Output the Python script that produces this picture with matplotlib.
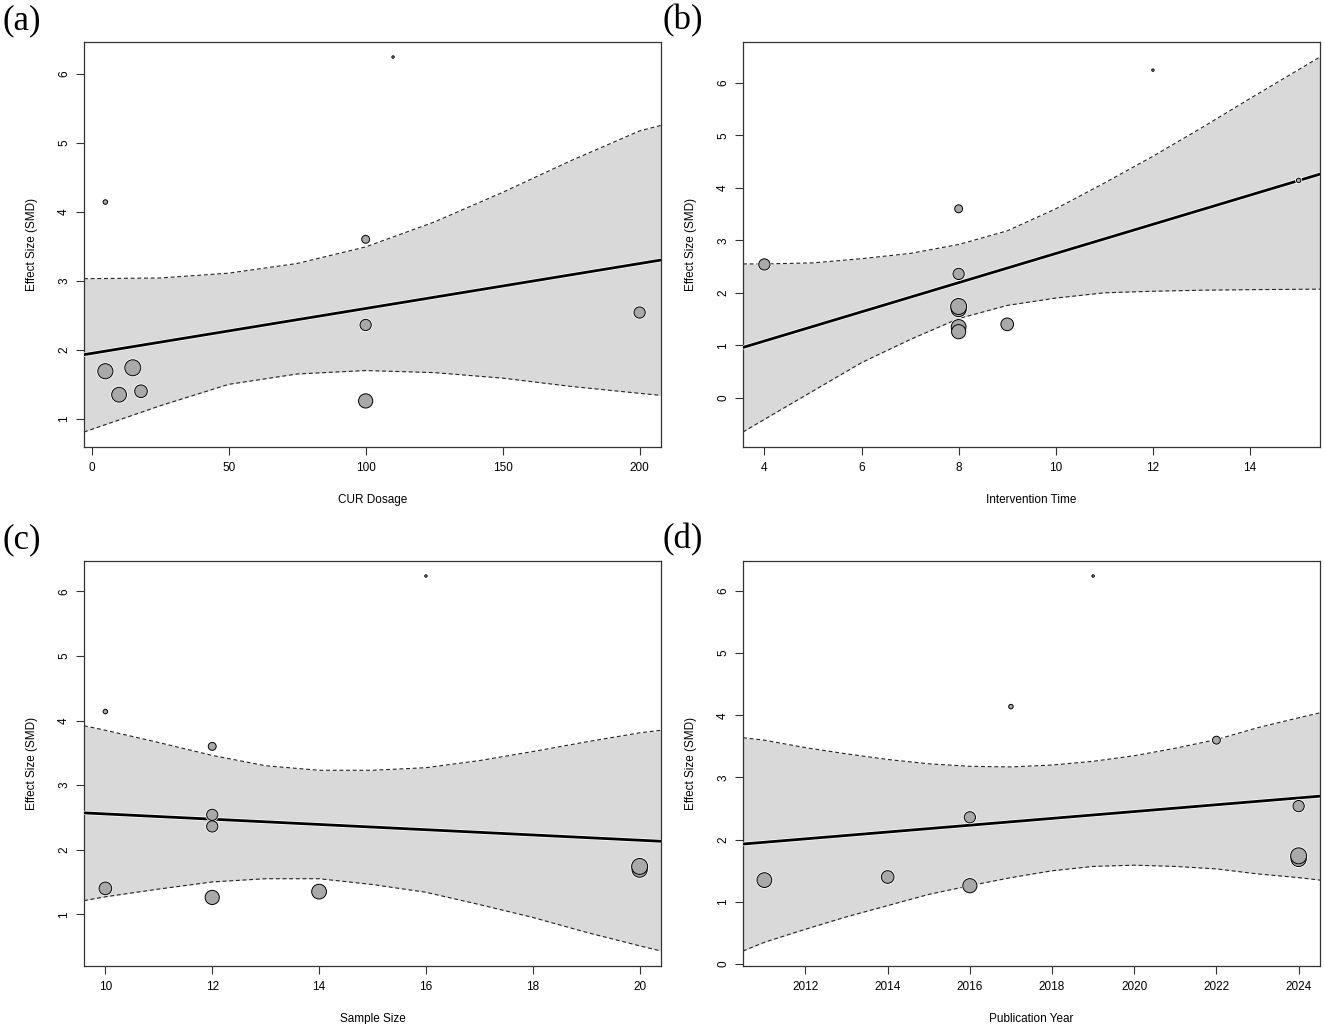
import numpy as np
import matplotlib.pyplot as plt
import matplotlib.patheffects as pe
from matplotlib.ticker import MultipleLocator

plt.rcParams['font.family'] = ['Liberation Sans', 'DejaVu Sans']

# one entry per study (drawn in this order)
effect_size = [6.24, 4.14, 3.60, 2.54, 2.36, 1.69, 1.74, 1.40, 1.35, 1.26]
weights = [1.2, 3.4, 7.0, 10.5, 10.5, 14.6, 15.5, 12.0, 14.2, 13.6]
cur_dosage = [110, 5, 100, 200, 100, 5, 15, 18, 10, 100]
interv_time = [12, 15, 8, 4, 8, 8, 8, 9, 8, 8]
sample_size = [16, 10, 12, 12, 12, 20, 20, 10, 14, 12]
pub_year = [2019, 2017, 2022, 2024, 2016, 2024, 2024, 2014, 2011, 2016]

# fitted line at the left / right plot edges, and CI band
dos_fit = [1.93, 3.30]
dos_grid = [-2.8, 25, 50, 75, 100, 125, 150, 175, 200, 207.8]
dos_upper = [3.03, 3.04, 3.11, 3.25, 3.49, 3.85, 4.28, 4.74, 5.17, 5.25]
dos_lower = [0.81, 1.19, 1.50, 1.65, 1.70, 1.67, 1.59, 1.47, 1.37, 1.34]

time_fit = [0.96, 4.26]
time_grid = [3.56, 4, 5, 6, 7, 8, 9, 10, 11, 12, 13, 14, 15.44]
time_upper = [2.55, 2.55, 2.57, 2.65, 2.75, 2.92, 3.18, 3.60, 4.09, 4.60, 5.14, 5.70, 6.49]
time_lower = [-0.65, -0.41, 0.13, 0.67, 1.11, 1.51, 1.76, 1.90, 2.00, 2.03, 2.05, 2.06, 2.07]

n_fit = [2.57, 2.13]
n_grid = [9.6, 10, 11, 12, 13, 14, 15, 16, 17, 18, 19, 20, 20.4]
n_upper = [3.92, 3.85, 3.66, 3.46, 3.30, 3.23, 3.23, 3.27, 3.38, 3.52, 3.67, 3.81, 3.85]
n_lower = [1.21, 1.27, 1.39, 1.50, 1.55, 1.55, 1.46, 1.34, 1.15, 0.95, 0.72, 0.51, 0.43]

yr_fit = [1.93, 2.70]
yr_grid = [2010.48, 2011, 2012, 2013, 2014, 2015, 2016, 2017, 2018, 2019, 2020,
           2021, 2022, 2023, 2024, 2024.52]
yr_upper = [3.64, 3.60, 3.48, 3.38, 3.29, 3.22, 3.18, 3.17, 3.20, 3.26, 3.35,
            3.47, 3.61, 3.80, 3.96, 4.04]
yr_lower = [0.21, 0.35, 0.56, 0.76, 0.94, 1.12, 1.26, 1.39, 1.50, 1.57, 1.59,
            1.57, 1.53, 1.45, 1.39, 1.35]

panels = [
    ('(a)', 'CUR Dosage', cur_dosage, dos_fit, dos_grid, dos_upper, dos_lower, 50),
    ('(b)', 'Intervention Time', interv_time, time_fit, time_grid, time_upper, time_lower, 2),
    ('(c)', 'Sample Size', sample_size, n_fit, n_grid, n_upper, n_lower, 2),
    ('(d)', 'Publication Year', pub_year, yr_fit, yr_grid, yr_upper, yr_lower, 2),
]

W, H = 1325, 1024
boxes = [(84, 42), (743, 42), (84, 561), (743, 561)]  # left, top in px
box_w, box_h = 577, 405

fig = plt.figure(figsize=(W / 100, H / 100), dpi=100)

yi = np.array(effect_size)
w = np.array(weights)
radius = 1.2 + (w - w.min()) / (w.max() - w.min()) * 6.8
sizes = (1.44 * radius) ** 2

for (label, xlabel, xi, fit, grid, upper, lower, xstep), (left, top) in zip(panels, boxes):
    ax = fig.add_axes([left / W, 1 - (top + box_h) / H, box_w / W, box_h / H])
    xi = np.array(xi, dtype=float)

    ax.fill_between(grid, lower, upper, color='#d9d9d9', lw=0, zorder=1)
    ax.plot(grid, upper, color='#222222', lw=0.8, ls=(0, (3.5, 2.5)), zorder=2)
    ax.plot(grid, lower, color='#222222', lw=0.8, ls=(0, (3.5, 2.5)), zorder=2)
    ax.plot([grid[0], grid[-1]], fit, color='black', lw=2.0, zorder=3,
            path_effects=[pe.Stroke(linewidth=3.0, foreground='white'), pe.Normal()])

    ax.scatter(xi, yi, s=sizes, facecolor='#a9a9a9',
               edgecolor='black', linewidth=0.7, zorder=4,
               path_effects=[pe.Stroke(linewidth=1.8, foreground='white'), pe.Normal()])

    # R style 4% padding around data + band
    xr = xi.max() - xi.min()
    ax.set_xlim(xi.min() - 0.04 * xr, xi.max() + 0.04 * xr)
    ylo = min(yi.min(), min(lower))
    yhi = max(yi.max(), max(upper))
    yr = yhi - ylo
    ax.set_ylim(ylo - 0.04 * yr, yhi + 0.04 * yr)

    ax.xaxis.set_major_locator(MultipleLocator(xstep))
    ax.yaxis.set_major_locator(MultipleLocator(1))
    ax.tick_params(direction='out', length=6, width=0.8, color='#333333',
                   labelsize=8.5, pad=5)
    ax.tick_params(axis='y', labelrotation=90, pad=4)
    for t in ax.get_yticklabels():
        t.set_va('center')
    for sp in ax.spines.values():
        sp.set_color('#333333')
        sp.set_linewidth(0.9)

    ax.set_xlabel(xlabel, fontsize=8.5)
    ax.set_ylabel('Effect Size (SMD)', fontsize=8.5)
    ax.xaxis.set_label_coords(0.5, -0.116)
    ax.yaxis.set_label_coords(-0.080, 0.5)

    fig.text((left - 81) / W, 1 - (top - 21) / H, label, family='Liberation Serif',
             fontsize=25, ha='left', va='center')

fig.savefig('out.png', dpi=100)
